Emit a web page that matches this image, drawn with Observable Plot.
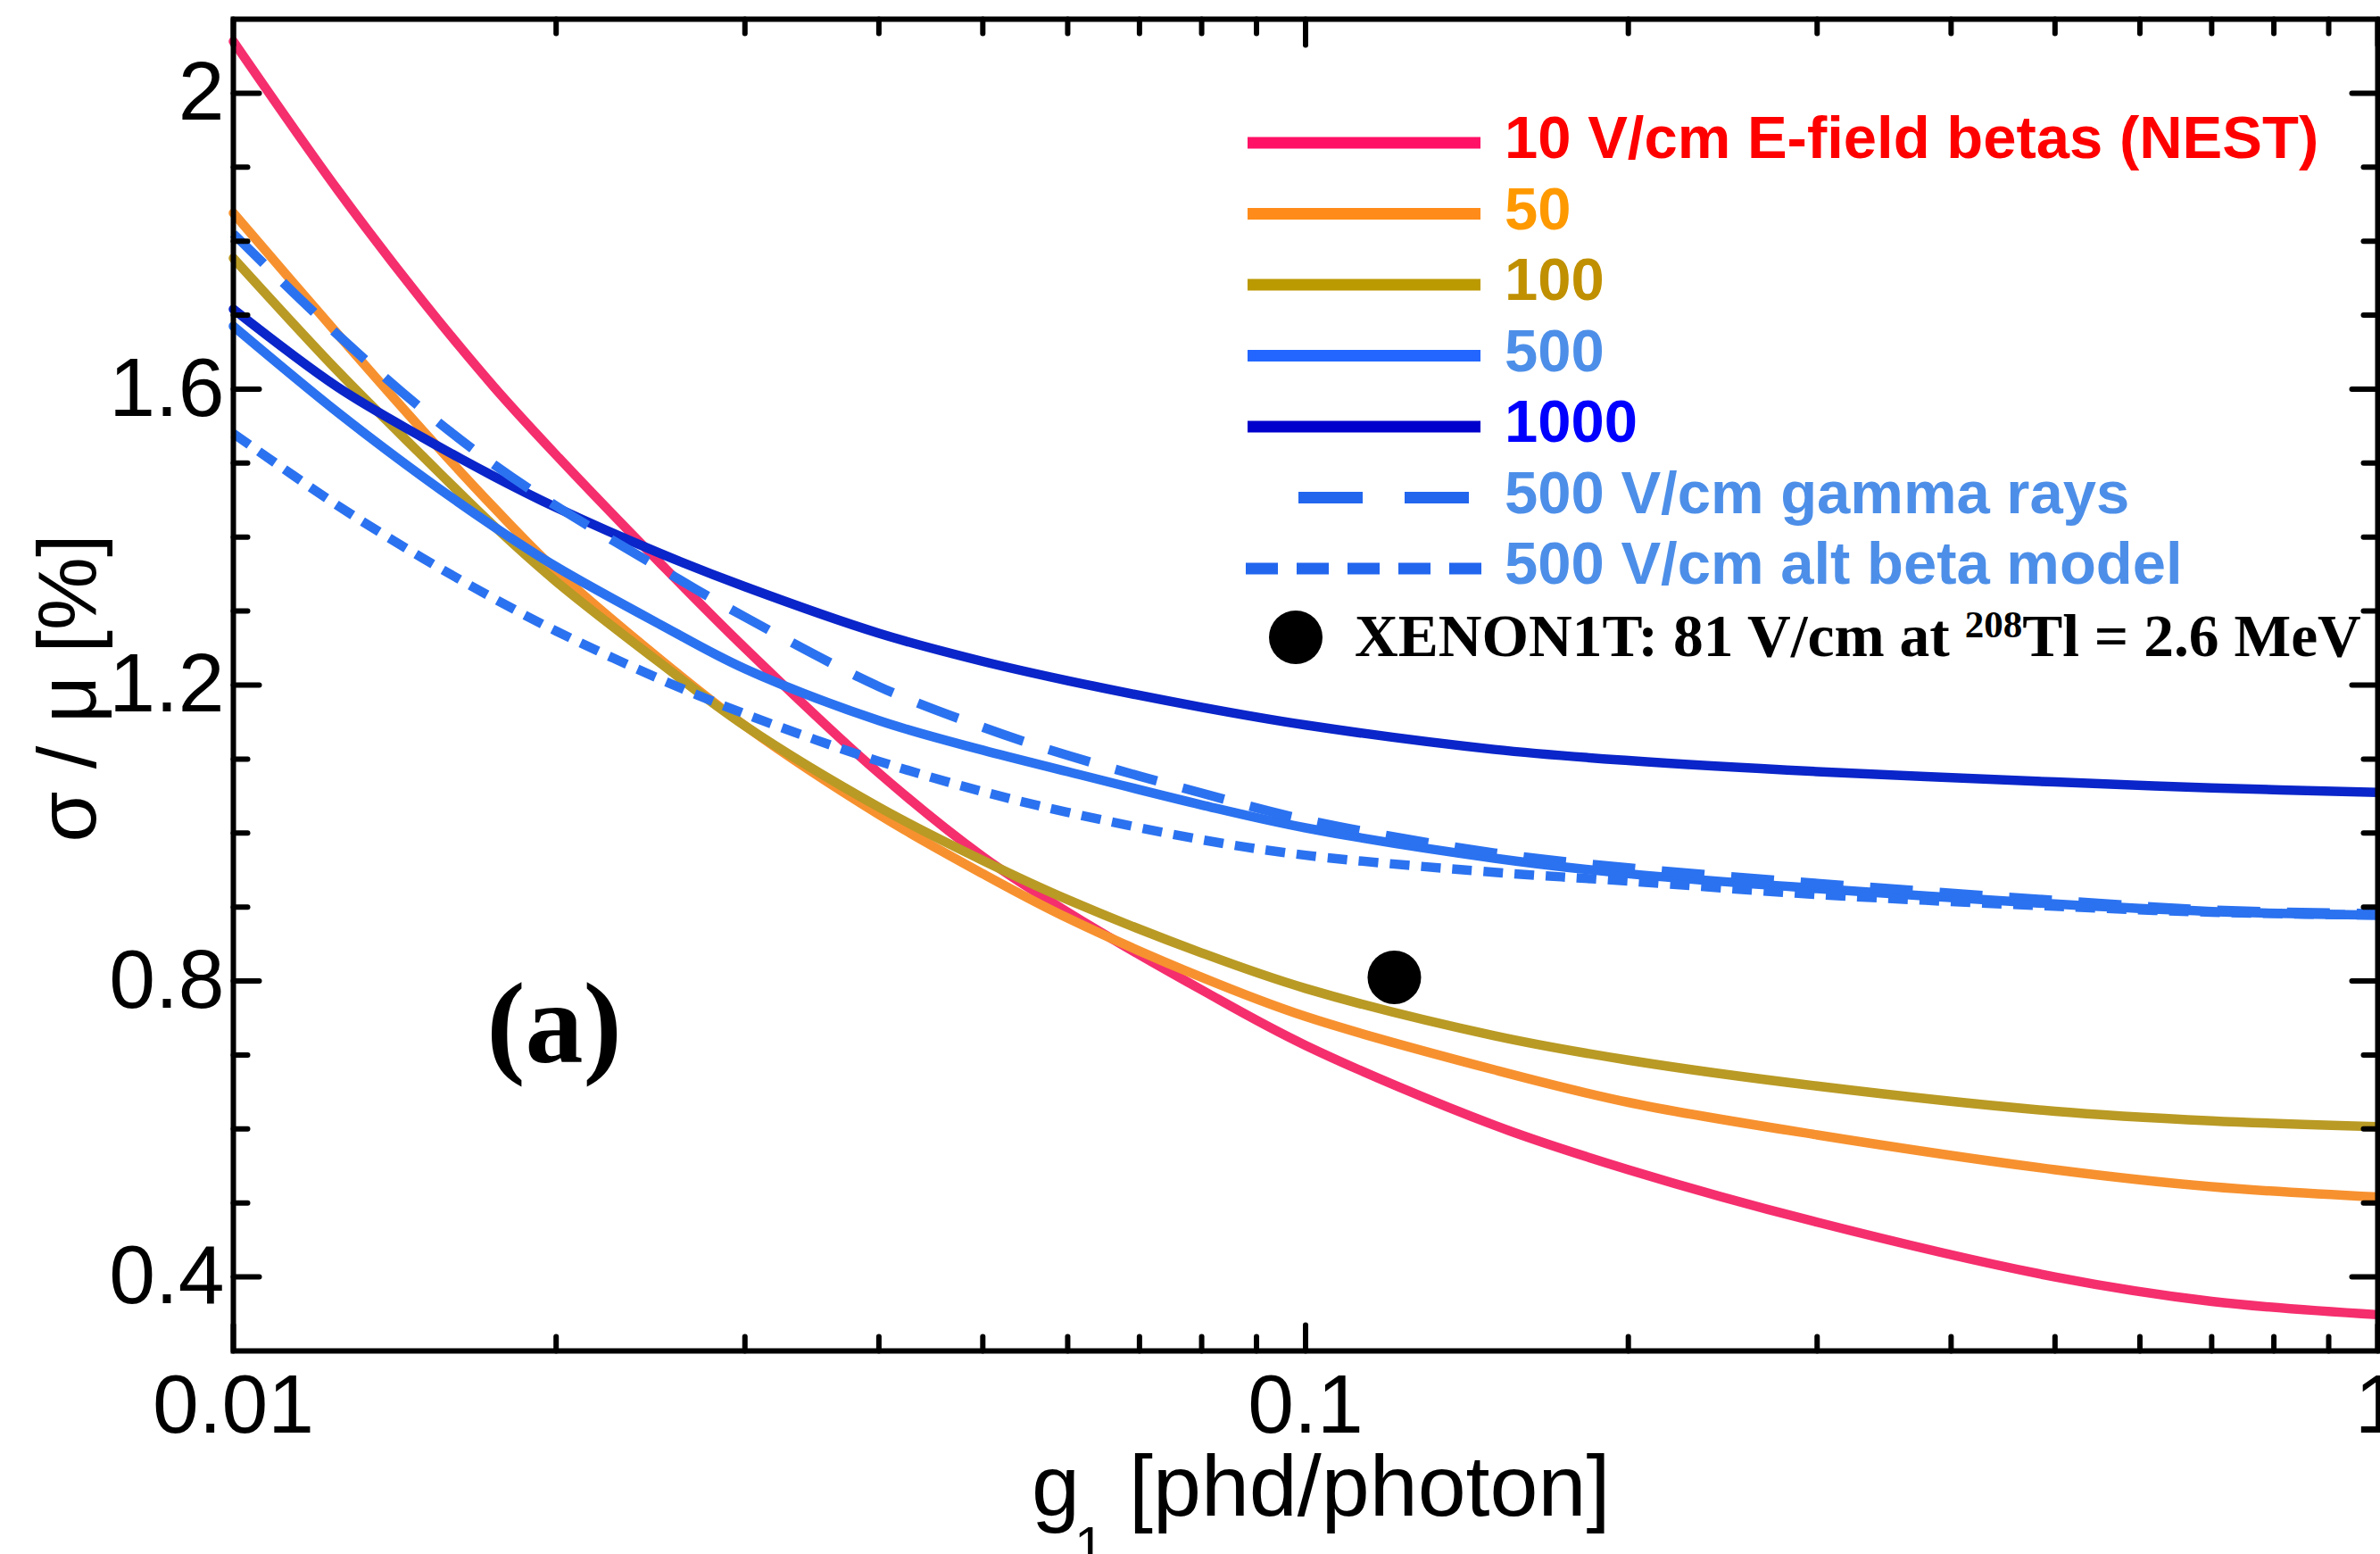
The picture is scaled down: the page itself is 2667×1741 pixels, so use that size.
<!DOCTYPE html>
<html><head><meta charset="utf-8">
<script src="https://cdn.jsdelivr.net/npm/d3@7"></script>
<script src="https://cdn.jsdelivr.net/npm/@observablehq/plot@0.6"></script>
<style>html,body{margin:0;padding:0;background:#fff;} #chart svg{display:block;}</style>
</head><body><div id="chart"></div>
<script>
// ---- data ----
const g1 = [0.01, 0.0125, 0.015, 0.0175, 0.02, 0.025, 0.03, 0.04, 0.05, 0.06, 0.08, 0.1, 0.15, 0.2, 0.3, 0.5, 0.7, 1.0];
const betas10    = [2.07, 1.87, 1.72, 1.603, 1.511, 1.365, 1.25, 1.081, 0.968, 0.893, 0.788, 0.713, 0.605, 0.545, 0.474, 0.400, 0.367, 0.349];
const betas50    = [1.838, 1.675, 1.545, 1.44, 1.355, 1.235, 1.145, 1.025, 0.945, 0.885, 0.805, 0.752, 0.680, 0.636, 0.592, 0.545, 0.522, 0.508];
const betas100   = [1.777, 1.625, 1.51, 1.415, 1.34, 1.23, 1.145, 1.035, 0.963, 0.910, 0.838, 0.790, 0.726, 0.693, 0.658, 0.624, 0.611, 0.603];
const betas500   = [1.685, 1.569, 1.482, 1.414, 1.36, 1.282, 1.222, 1.152, 1.112, 1.083, 1.038, 1.007, 0.966, 0.945, 0.925, 0.904, 0.894, 0.889];
const betas1000  = [1.708, 1.603, 1.535, 1.482, 1.44, 1.378, 1.333, 1.27, 1.232, 1.206, 1.17, 1.146, 1.113, 1.098, 1.083, 1.069, 1.061, 1.055];
const gamma500   = [1.81, 1.674, 1.573, 1.498, 1.442, 1.358, 1.292, 1.198, 1.143, 1.105, 1.054, 1.018, 0.973, 0.953, 0.932, 0.909, 0.896, 0.891];
const altBeta500 = [1.54, 1.443, 1.372, 1.317, 1.273, 1.208, 1.161, 1.097, 1.056, 1.028, 0.991, 0.970, 0.947, 0.935, 0.917, 0.901, 0.893, 0.889];

const seriesLabels = ["10 V/cm E-field betas (NEST)", "50", "100", "500", "1000", "500 V/cm gamma rays", "500 V/cm alt beta model"];
const seriesValues = [betas10, betas50, betas100, betas500, betas1000, gamma500, altBeta500];

const xenonG1 = [0.121];
const xenonSigma = [0.805];
const xenonLabelMain = "XENON1T: 81 V/cm at ";
const xenonLabelSup = "208";
const xenonLabelTail = "Tl = 2.6 MeV";

const xMajorTicks = [0.01, 0.1, 1];
const xTickLabels = ["0.01", "0.1", "1"];
const xMinorTicks = [0.02, 0.03, 0.04, 0.05, 0.06, 0.07, 0.08, 0.09, 0.2, 0.3, 0.4, 0.5, 0.6, 0.7, 0.8, 0.9];
const yMajorTicks = [0.4, 0.8, 1.2, 1.6, 2.0];
const yTickLabels = ["0.4", "0.8", "1.2", "1.6", "2"];
const yMinorTicks = [0.5, 0.6, 0.7, 0.9, 1.0, 1.1, 1.3, 1.4, 1.5, 1.7, 1.8, 1.9];

const xLabel = ["g", "1", "[phd/photon]"];
const yLabel = "σ / μ [%]";
const panelLabel = "(a)";

// ---- styles ----
const curveColors  = ["#f52e6e", "#f7912f", "#b99a24", "#2b72f0", "#0a25c9", "#2b72f0", "#2b72f0"];
const swatchColors = ["#ff1166", "#ff8c1a", "#bb9900", "#2266ff", "#0000cc", "#2266ee", "#2266ee"];
const textColors   = ["#ff0000", "#ff9900", "#c09000", "#4d8fe8", "#0000ff", "#4d8fe8", "#4d8fe8"];
const curveDash    = [null, null, null, null, null, "48,30", "22,13"];

const SANS = "'Liberation Sans', Arial, Helvetica, sans-serif";
const SERIF = "'Liberation Serif', 'Times New Roman', serif";

const table = seriesLabels.map((s, k) => g1.map((x, i) => ({series: s, g1: x, sigma: seriesValues[k][i]})));
const xenon = xenonG1.map((x, i) => ({g1: x, sigma: xenonSigma[i]}));

const tickShape = {draw(ctx, l) { ctx.moveTo(0, 0); ctx.lineTo(0, -l); }};
function tickMarks(data, channel, frameAnchor, rotate, length) {
  return Plot.vector(data, {[channel]: d => d, frameAnchor, rotate, length, anchor: "start",
    shape: tickShape, stroke: "black", strokeWidth: 6});
}

const lineMarks = table.map((rows, k) => Plot.line(rows, {
  x: "g1", y: "sigma", stroke: curveColors[k], strokeWidth: 10.5, curve: "catmull-rom",
  strokeDasharray: curveDash[k] || undefined,
  strokeLinecap: curveDash[k] ? "butt" : "round"
}));

const chart = Plot.plot({
  width: 2667, height: 1741,
  marginLeft: 261, marginRight: 3, marginTop: 21, marginBottom: 228,
  x: {type: "log", domain: [0.01, 1], label: null},
  y: {domain: [0.3, 2.1], label: null},
  style: {fontFamily: SANS, background: "white", color: "black"},
  marks: [
    ...lineMarks,
    Plot.dot(xenon, {x: "g1", y: "sigma", r: 30, fill: "black"}),
    Plot.frame({stroke: "black", strokeWidth: 6}),
    Plot.axisX({ticks: xMajorTicks, tickSize: 0, tickPadding: 25, fontSize: 93,
      tickFormat: d => xTickLabels[xMajorTicks.indexOf(d)], label: null}),
    Plot.axisY({ticks: yMajorTicks, tickSize: 0, tickPadding: 10, fontSize: 93,
      tickFormat: d => yTickLabels[yMajorTicks.findIndex(v => Math.abs(v - d) < 1e-9)], label: null}),
    tickMarks(xMajorTicks, "x", "bottom", 0, 29),
    tickMarks(xMinorTicks, "x", "bottom", 0, 16),
    tickMarks(xMajorTicks, "x", "top", 180, 29),
    tickMarks(xMinorTicks, "x", "top", 180, 16),
    tickMarks(yMajorTicks, "y", "left", 90, 29),
    tickMarks(yMinorTicks, "y", "left", 90, 16),
    tickMarks(yMajorTicks, "y", "right", -90, 29),
    tickMarks(yMinorTicks, "y", "right", -90, 16)
  ]
});
document.getElementById("chart").appendChild(chart);

// ---- annotations: axis titles, panel label, legend ----
const svg = d3.select(chart);

// x title with subscript
const xt = svg.append("text").attr("font-family", SANS).attr("font-size", 97)
  .attr("fill", "black").attr("text-anchor", "start");
xt.append("tspan").attr("x", 1156).attr("y", 1698).text(xLabel[0]);
xt.append("tspan").attr("x", 1204).attr("y", 1752).attr("font-size", 60).text(xLabel[1]);
xt.append("tspan").attr("x", 1265).attr("y", 1698).text(xLabel[2]);

// y title
svg.append("text").attr("font-family", SANS).attr("font-size", 92).attr("fill", "black")
  .attr("text-anchor", "middle").attr("transform", "translate(107,771) rotate(-90)").text(yLabel);

// panel label
svg.append("text").attr("font-family", SERIF).attr("font-weight", "bold").attr("font-size", 130)
  .attr("text-anchor", "middle").attr("x", 621).attr("y", 1190).attr("fill", "black").text(panelLabel);

// legend
const lg = svg.append("g").attr("text-anchor", "start");
const rowY = i => 160 + i * 79.5;
seriesLabels.forEach((label, i) => {
  const y = rowY(i);
  let x1 = 1398, x2 = 1659, dash = null;
  if (i === 5) { x1 = 1455; x2 = 1646; dash = "72,47"; }
  if (i === 6) { x1 = 1396; x2 = 1660; dash = "36,21"; }
  const ln = lg.append("line").attr("x1", x1).attr("x2", x2).attr("y1", y).attr("y2", y)
    .attr("stroke", swatchColors[i]).attr("stroke-width", 13);
  if (dash) ln.attr("stroke-dasharray", dash);
  lg.append("text").attr("x", 1686).attr("y", y + 17).attr("font-family", SANS)
    .attr("text-anchor", "start")
    .attr("font-weight", "bold").attr("font-size", 67).attr("fill", textColors[i]).text(label);
});
lg.append("circle").attr("cx", 1452).attr("cy", 714).attr("r", 30).attr("fill", "black");
const xl = lg.append("text").attr("x", 1518).attr("y", 735).attr("font-family", SERIF)
  .attr("text-anchor", "start")
  .attr("font-weight", "bold").attr("font-size", 67.5).attr("fill", "black");
xl.append("tspan").text(xenonLabelMain);
xl.append("tspan").attr("font-size", 43).attr("dy", -21).text(xenonLabelSup);
xl.append("tspan").attr("dy", 21).text(xenonLabelTail);
</script>
</body></html>
